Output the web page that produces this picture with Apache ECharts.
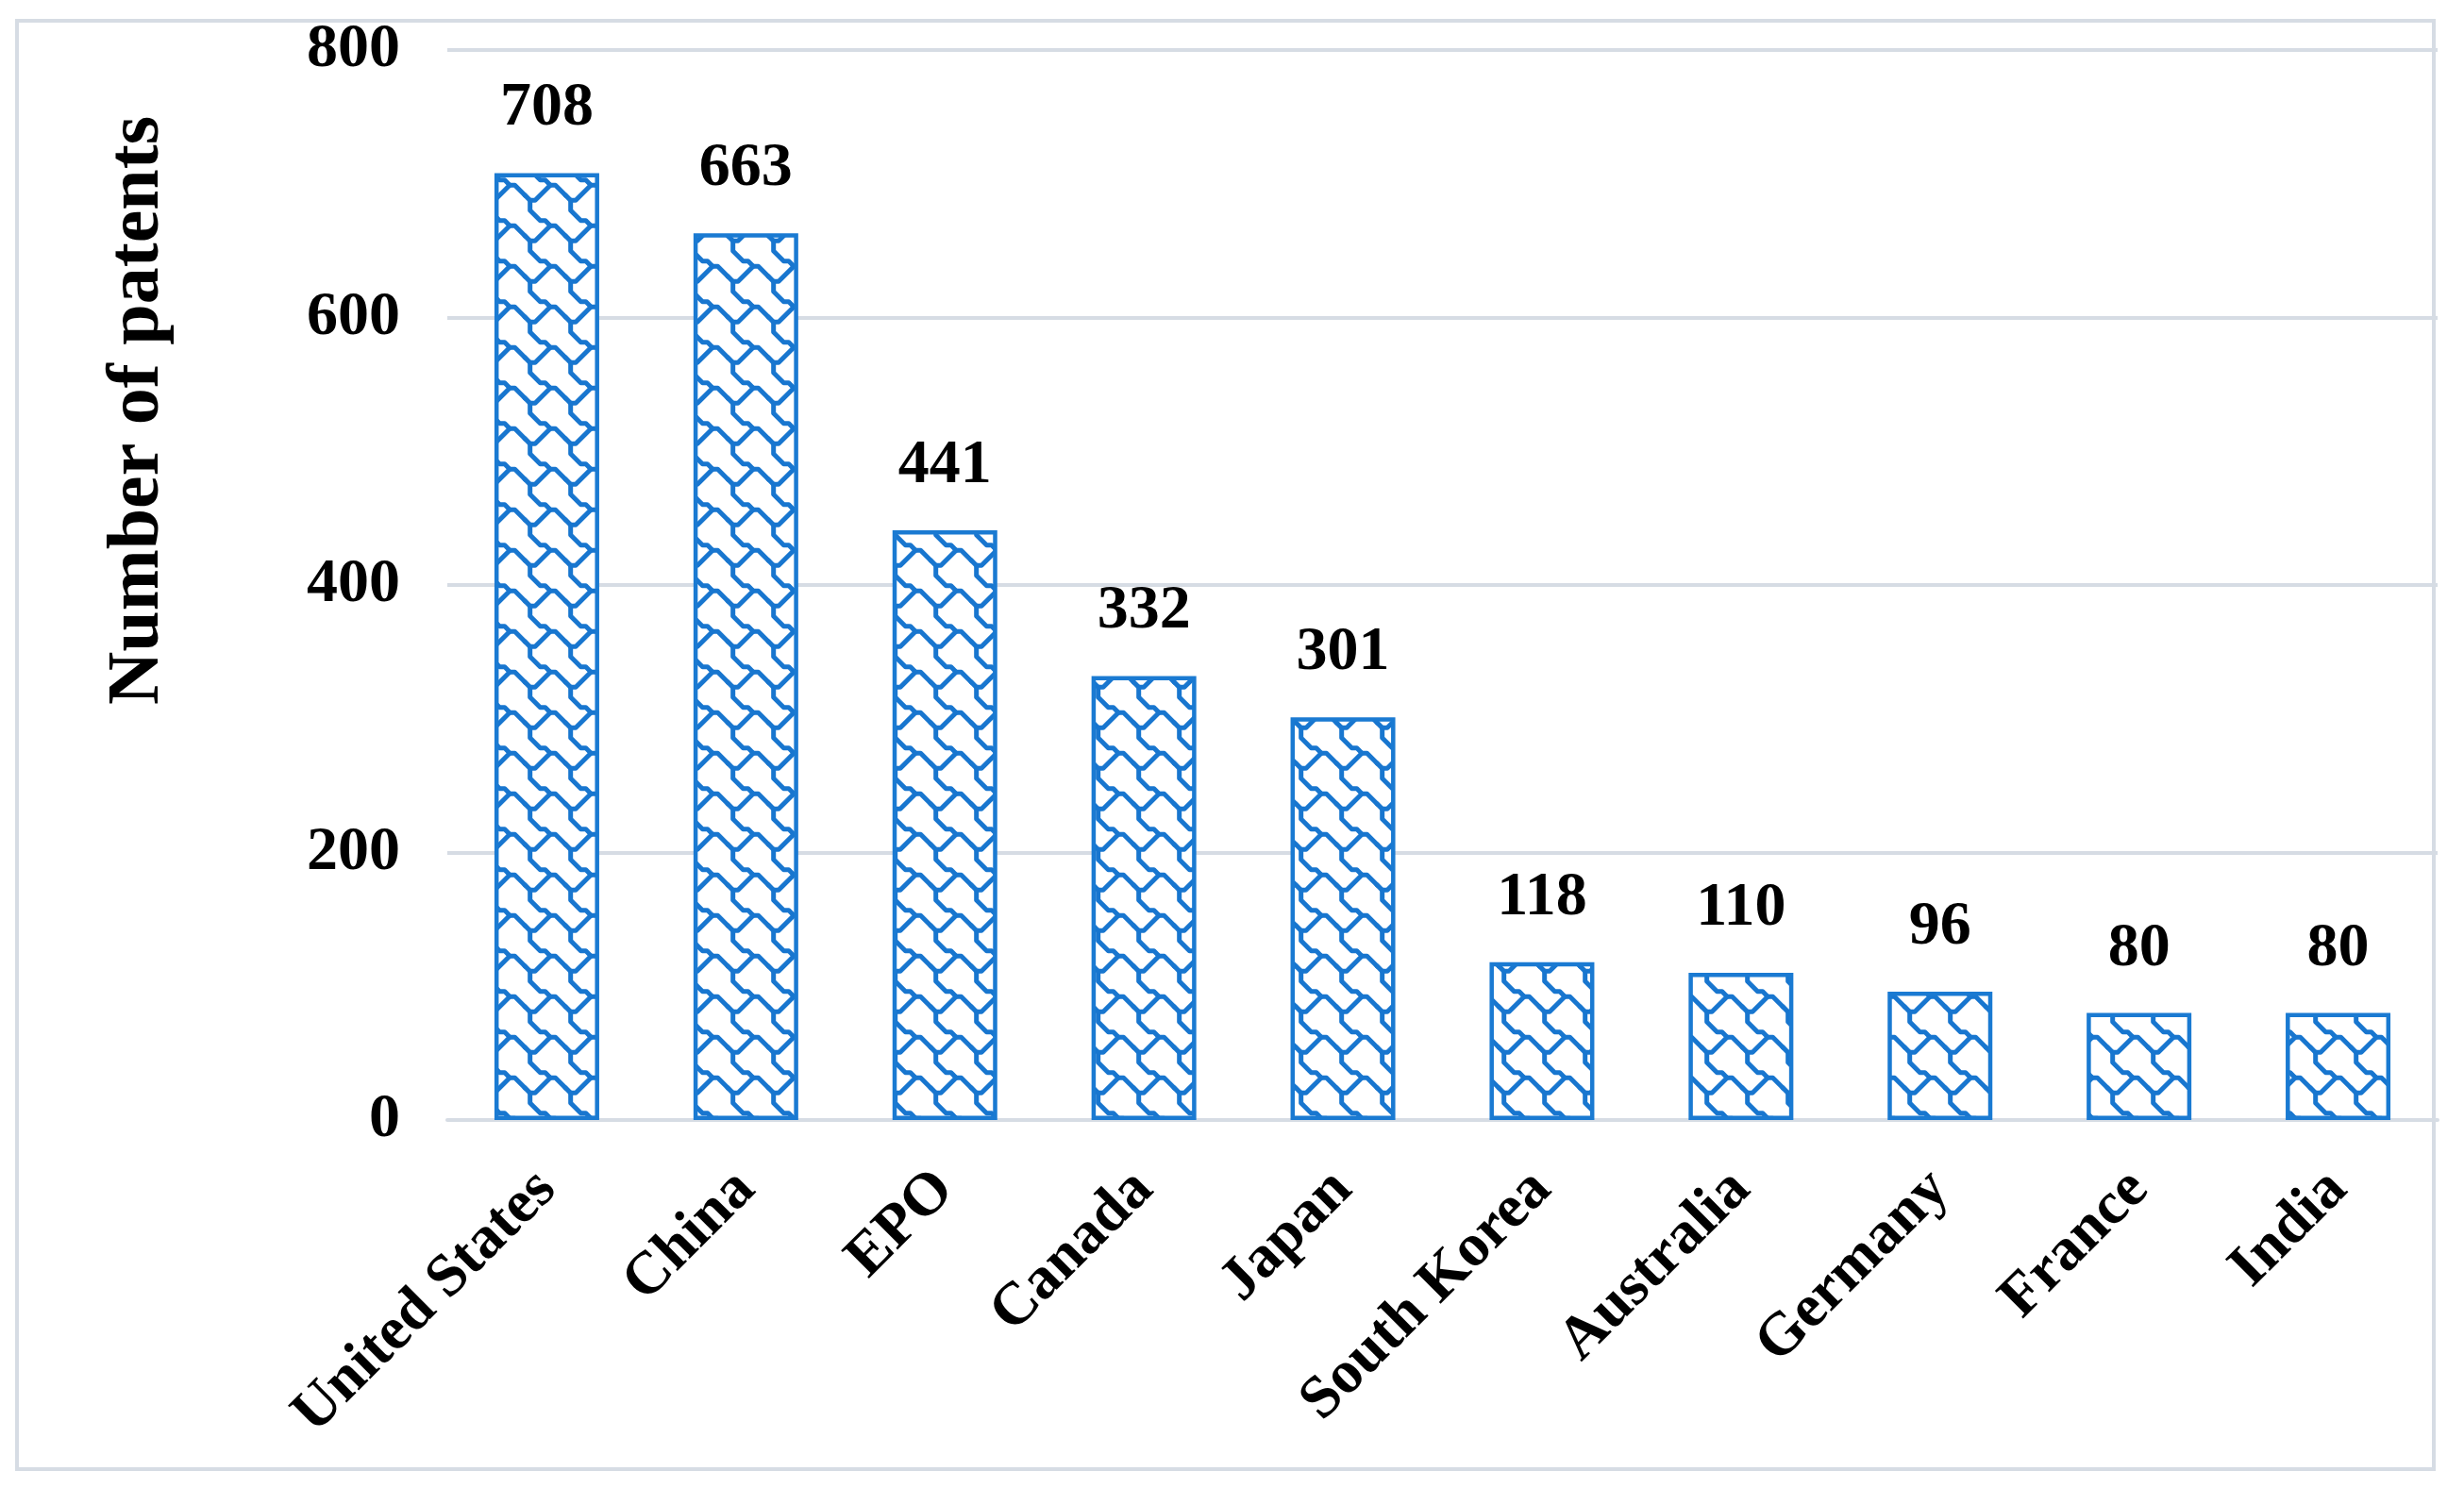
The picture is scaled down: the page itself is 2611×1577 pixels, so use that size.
<!DOCTYPE html>
<html>
<head>
<meta charset="utf-8">
<script src="https://cdn.jsdelivr.net/npm/echarts@6/dist/echarts.min.js"></script>
<style>
html,body{margin:0;padding:0;background:#fff;}
#chart{width:2611px;height:1577px;}
</style>
</head>
<body>
<div id="chart"></div>
<script>
const categories = ['United States','China','EPO','Canada','Japan','South Korea','Australia','Germany','France','India'];
const patents = [708, 663, 441, 332, 301, 118, 110, 96, 80, 80];
const yTicks = [0, 200, 400, 600, 800];
const yTitle = 'Number of patents';

function makeShingle(){
  const T = 43, s = T / 8;
  const c = document.createElement('canvas');
  c.width = T; c.height = T;
  const g = c.getContext('2d');
  g.fillStyle = '#ffffff';
  g.fillRect(0, 0, T, T);
  g.strokeStyle = '#1876cf';
  g.lineWidth = 5;
  g.lineJoin = 'round';
  g.lineCap = 'round';
  const main = [[7.5,6.5],[5.5,4.5],[4.5,4.5],[3.5,3.5],[2.5,3.5],[0.5,1.5],[0.5,-0.5],[-0.5,-1.5]];
  const branch = [[0.5,7.5],[1.5,7.5],[4.5,4.5]];
  for (const dx of [-T, 0, T]) {
    for (const dy of [-T, 0, T]) {
      for (const pl of [main, branch]) {
        g.beginPath();
        pl.forEach((p, i) => {
          const x = p[0] * s + dx, y = p[1] * s + dy;
          if (i === 0) g.moveTo(x, y); else g.lineTo(x, y);
        });
        g.stroke();
      }
    }
  }
  return c;
}

const chart = echarts.init(document.getElementById('chart'), null, {renderer: 'canvas'});
const font = '"Liberation Serif", "Times New Roman", serif';

chart.setOption({
  backgroundColor: '#ffffff',
  animation: false,
  graphic: [
    {
      type: 'rect', z: 100, silent: true,
      shape: {x: 18, y: 22, width: 2561, height: 1535},
      style: {fill: null, stroke: '#d6dce4', lineWidth: 4}
    },
    {
      type: 'text', z: 100,
      x: 147, y: 435, rotation: Math.PI / 2,
      style: {
        text: yTitle, fontFamily: font, fontWeight: 'bold', fontSize: 78,
        fill: '#000', align: 'center', verticalAlign: 'middle'
      }
    }
  ],
  grid: {left: 474, right: 28, top: 53, bottom: 390, containLabel: false},
  xAxis: {
    type: 'category',
    data: categories,
    axisLine: {show: true, lineStyle: {color: '#d6dce4', width: 4}},
    axisTick: {show: false},
    axisLabel: {
      rotate: 45, margin: 64, interval: 0,
      fontFamily: font, fontWeight: 'bold', fontSize: 64, color: '#000'
    }
  },
  yAxis: {
    type: 'value',
    min: yTicks[0], max: yTicks[yTicks.length - 1], interval: 200,
    axisLine: {show: false},
    axisTick: {show: false},
    splitLine: {show: true, lineStyle: {color: '#d6dce4', width: 4}},
    axisLabel: {
      margin: 50, fontFamily: font, fontWeight: 'bold', fontSize: 66, color: '#000'
    }
  },
  series: [{
    type: 'bar',
    data: patents,
    barWidth: 111,
    itemStyle: {
      color: {image: makeShingle(), repeat: 'repeat'},
      borderColor: '#1a7ad2',
      borderWidth: 4.5
    },
    label: {
      show: true, position: 'top', distance: 35,
      fontFamily: font, fontWeight: 'bold', fontSize: 66, color: '#000'
    }
  }]
});
</script>
</body>
</html>
